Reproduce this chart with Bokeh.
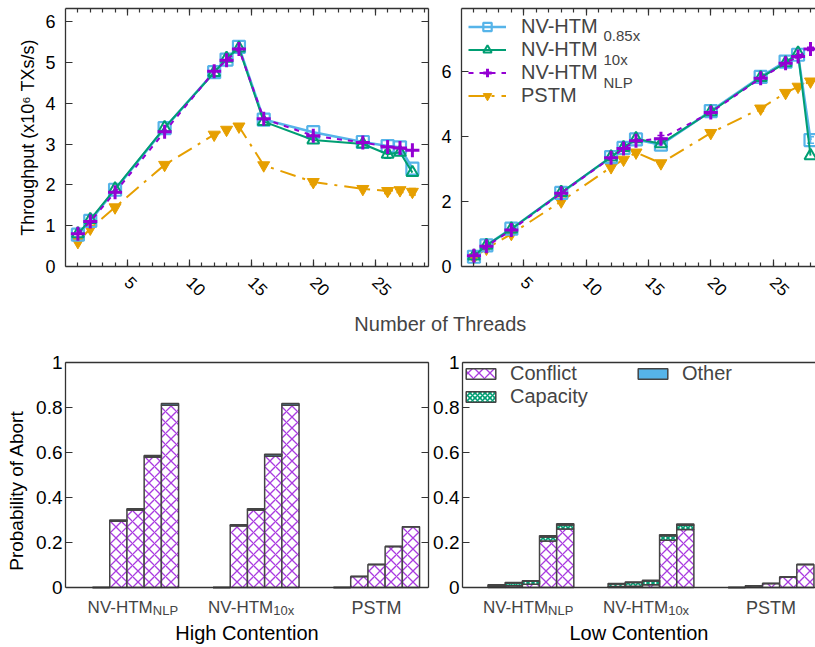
import math
from bokeh.plotting import figure
from bokeh.models import (Range1d, FixedTicker, LinearAxis, Label, Legend, LegendItem,
                          ColumnDataSource, Whisker, TeeHead, CustomJSTickFormatter, Span)
from bokeh.layouts import column, row
from bokeh.embed import file_html
from bokeh.resources import INLINE

FONT = "Liberation Sans"
AXC = "#333333"
BLUE, GREEN, PURPLE, ORANGE = "#56B4E9", "#009E73", "#9400D3", "#E69F00"
HATCH_PURPLE = "#A93BE0"

# ---------------- data: throughput ----------------
threads = [1, 2, 4, 8, 12, 13, 14, 16, 20, 24, 26, 27, 28]

hc_085 = [0.78, 1.12, 1.88, 3.39, 4.76, 5.07, 5.38, 3.60, 3.29, 3.05, 2.95, 2.92, 2.40]
hc_10x = [0.80, 1.15, 1.90, 3.40, 4.75, 5.10, 5.35, 3.55, 3.10, 3.00, 2.75, 2.80, 2.30]
hc_nlp = [0.80, 1.10, 1.82, 3.30, 4.78, 5.05, 5.33, 3.62, 3.20, 3.04, 2.93, 2.90, 2.85]
hc_pstm = [0.60, 0.93, 1.45, 2.49, 3.23, 3.35, 3.43, 2.48, 2.07, 1.90, 1.85, 1.87, 1.83]
hc_10x_err = [0, 0, 0, 0, 0, 0, 0, 0, 0, 0, 0.10, 0, 0]
hc_pstm_err = [0, 0, 0, 0, 0, 0, 0, 0, 0.06, 0, 0.06, 0.06, 0.08]

lc_085 = [0.30, 0.65, 1.16, 2.26, 3.36, 3.64, 3.90, 3.74, 4.77, 5.82, 6.29, 6.50, 3.88]
lc_10x = [0.32, 0.65, 1.15, 2.27, 3.36, 3.65, 3.92, 3.77, 4.75, 5.80, 6.25, 6.55, 3.40]
lc_nlp = [0.33, 0.62, 1.12, 2.25, 3.34, 3.62, 3.86, 3.92, 4.73, 5.78, 6.24, 6.45, 6.68]
lc_pstm = [0.28, 0.55, 1.00, 2.00, 3.05, 3.28, 3.50, 3.17, 4.10, 4.85, 5.33, 5.52, 5.68]
lc_085_err = [0, 0, 0, 0, 0, 0, 0, 0, 0, 0, 0, 0, 0.10]
lc_nlp_err = [0, 0, 0, 0, 0, 0, 0, 0.10, 0, 0, 0, 0.05, 0.05]
lc_pstm_err = [0, 0, 0, 0, 0, 0, 0, 0, 0, 0.08, 0, 0, 0]

x_major = [5, 10, 15, 20, 25]
x_minor = list(range(1, 30))
hc_yticks = [0, 1, 2, 3, 4, 5, 6]
lc_yticks = [0, 2, 4, 6]

series_names = ["NV-HTM", "NV-HTM", "NV-HTM", "PSTM"]
series_subs = ["0.85x", "10x", "NLP", ""]

# ---------------- data: abort probability ----------------
group_names = ["NV-HTM", "NV-HTM", "PSTM"]
group_subs = ["NLP", "10x", ""]
bars_per_group = 5
abort_yticks = [0, 0.2, 0.4, 0.6, 0.8, 1.0]

hc_conflict = [0.0, 0.295, 0.345, 0.580, 0.810, 0.0, 0.275, 0.345, 0.585, 0.810, 0.0, 0.049, 0.102, 0.182, 0.270]
hc_capacity = [0.0] * 15
hc_other = [0.0, 0.005, 0.005, 0.007, 0.008, 0.0, 0.004, 0.005, 0.007, 0.008, 0.0, 0.0, 0.0, 0.0, 0.0]

lc_conflict = [0.003, 0.008, 0.014, 0.207, 0.260, 0.004, 0.006, 0.012, 0.210, 0.258, 0.0, 0.008, 0.018, 0.047, 0.102]
lc_capacity = [0.007, 0.012, 0.014, 0.018, 0.018, 0.012, 0.016, 0.017, 0.020, 0.019, 0.0, 0.0, 0.0, 0.0, 0.0]
lc_other = [0.002, 0.002, 0.002, 0.005, 0.005, 0.002, 0.002, 0.003, 0.005, 0.005, 0.0, 0.0, 0.0, 0.0, 0.0]


def base_fig(x_range, y_range, w, h, bl, br, bt, bb):
    p = figure(x_range=x_range, y_range=y_range, width=w, height=h,
               min_border_left=bl, min_border_right=br, min_border_top=bt, min_border_bottom=bb,
               x_axis_type=None, y_axis_type=None, output_backend="svg", toolbar_location=None)
    p.outline_line_color = None
    p.background_fill_color = "white"
    p.border_fill_color = "white"
    return p


def add_axis(p, side, ticker, labels=True, size="18px", standoff=8, orientation=None,
             tick_in=7, minor_in=4, formatter=None, bounds=None):
    ax = LinearAxis(ticker=ticker)
    ax.axis_line_color = AXC
    ax.axis_line_width = 1.3
    ax.major_tick_line_color = AXC
    ax.major_tick_line_width = 1.2
    ax.minor_tick_line_color = AXC
    ax.minor_tick_line_width = 1.2
    ax.major_tick_in = tick_in
    ax.major_tick_out = 0
    ax.minor_tick_in = minor_in
    ax.minor_tick_out = 0
    if bounds is not None:
        ax.bounds = bounds
    if labels:
        ax.major_label_text_font = FONT
        ax.major_label_text_font_size = size
        ax.major_label_text_color = "black"
        ax.major_label_standoff = standoff
        if orientation is not None:
            ax.major_label_orientation = orientation
        if formatter is not None:
            ax.formatter = formatter
    else:
        ax.formatter = CustomJSTickFormatter(code="return ''")
        ax.major_label_text_font_size = "0px"
        ax.major_label_standoff = 0
    ax.axis_label_text_font = FONT
    ax.axis_label_text_font_style = "normal"
    ax.axis_label_text_color = "black"
    p.add_layout(ax, side)
    return ax


def add_err(p, xs, ys, errs, color):
    idx = [i for i, e in enumerate(errs) if e > 0]
    if not idx:
        return
    src = ColumnDataSource(dict(x=[xs[i] for i in idx],
                                lo=[ys[i] - errs[i] for i in idx],
                                hi=[ys[i] + errs[i] for i in idx]))
    w = Whisker(source=src, base="x", lower="lo", upper="hi", line_color=color, line_width=1.5,
                upper_head=TeeHead(size=7, line_color=color, line_width=1.5),
                lower_head=TeeHead(size=7, line_color=color, line_width=1.5))
    p.add_layout(w)


TOP_FH = 258
TOP_BT = 8
TOP_BB = 39


def throughput_fig(xmax, ymax, yticks, bl, fw, br, data, errs, mirror_right, ylabel=None):
    p = base_fig(Range1d(0, xmax), Range1d(0, ymax), bl + fw + br, TOP_BT + TOP_FH + TOP_BB,
                 bl, br, TOP_BT, TOP_BB)
    xt = FixedTicker(ticks=x_major, minor_ticks=x_minor)
    yt = FixedTicker(ticks=yticks, minor_ticks=[])
    add_axis(p, "below", xt, size="17px", standoff=13, orientation=-math.pi / 4)
    add_axis(p, "above", FixedTicker(ticks=x_major, minor_ticks=x_minor), labels=False)
    ya = add_axis(p, "left", yt, size="18px", standoff=10)
    if ylabel:
        ya.axis_label = ylabel
        ya.axis_label_text_font_size = "18px"
        ya.axis_label_standoff = 4
    if mirror_right:
        add_axis(p, "right", FixedTicker(ticks=yticks, minor_ticks=[]), labels=False)

    y085, y10x, ynlp, ypstm = data
    e085, e10x, enlp, epstm = errs
    l4 = p.line(threads, ypstm, line_color=ORANGE, line_width=2, line_dash="16 7 3 7")
    m4 = p.scatter(threads, ypstm, marker="inverted_triangle", size=12, line_color=ORANGE,
                   fill_color=ORANGE, line_width=1)
    add_err(p, threads, ypstm, epstm, ORANGE)
    l1 = p.line(threads, y085, line_color=BLUE, line_width=2.6)
    m1 = p.scatter(threads, y085, marker="square", size=12, line_color=BLUE,
                   fill_color=None, line_width=2.2)
    add_err(p, threads, y085, e085, BLUE)
    l2 = p.line(threads, y10x, line_color=GREEN, line_width=2)
    m2 = p.scatter(threads, y10x, marker="triangle", size=12, line_color=GREEN,
                   fill_color=None, line_width=2)
    add_err(p, threads, y10x, e10x, GREEN)
    l3 = p.line(threads, ynlp, line_color=PURPLE, line_width=2, line_dash="5 6")
    m3 = p.scatter(threads, ynlp, marker="cross", size=14, line_color=PURPLE, line_width=3)
    add_err(p, threads, ynlp, enlp, PURPLE)
    return p, [[l1, m1], [l2, m2], [l3, m3], [l4, m4]]


# ---------------- top row ----------------
tl, _ = throughput_fig(29.3, 6.32, hc_yticks, 65, 363, 2,
                       (hc_085, hc_10x, hc_nlp, hc_pstm),
                       ([0] * 13, hc_10x_err, [0] * 13, hc_pstm_err),
                       True, ylabel="Throughput (x10\u2076 TXs/s)")

tr, tr_rs = throughput_fig(28.4, 7.92, lc_yticks, 31, 354, 0,
                           (lc_085, lc_10x, lc_nlp, lc_pstm),
                           (lc_085_err, [0] * 13, lc_nlp_err, lc_pstm_err),
                           False)

SUB_BASE0 = 27    # subscript baseline of first legend row, px below frame top
LEG_STEP = 23.5   # legend row pitch
leg = Legend(items=[LegendItem(label=series_names[i], renderers=tr_rs[i]) for i in range(4)],
             location="top_left", margin=7, padding=8, spacing=0,
             glyph_width=38, glyph_height=21, label_height=21, label_standoff=15,
             label_text_font=FONT, label_text_font_size="20px",
             border_line_color=None, background_fill_alpha=0)
tr.add_layout(leg)
for i, sub in enumerate(series_subs):
    if sub:
        y_from_top = SUB_BASE0 + LEG_STEP * i
        tr.add_layout(Label(x=142, y=TOP_FH - y_from_top, x_units="screen",
                            y_units="screen", text=sub, text_font=FONT, text_font_size="15px",
                            text_align="left", text_baseline="alphabetic"))

# ---------------- middle label ----------------
mid = figure(width=815, height=40, x_axis_type=None, y_axis_type=None,
             x_range=Range1d(0, 1), y_range=Range1d(0, 1), min_border=0,
             output_backend="svg", toolbar_location=None)
mid.outline_line_color = None
mid.add_layout(Label(x=440, y=22, x_units="screen", y_units="screen", text="Number of Threads",
                     text_font=FONT, text_font_size="20px", text_align="center",
                     text_baseline="middle"))

# ---------------- bottom row ----------------
BOT_FH = 256
BOT_BT = 17
BOT_BB = 28
BELOW_PX = 31  # pixels of frame reserved below the zero line for group names
Y_MIN = -BELOW_PX / (BOT_FH - BELOW_PX)


def abort_fig(xr, bl, fw, br, conflict, capacity, other, mirror_right, ylabel=None, xlabel=""):
    p = base_fig(xr, Range1d(Y_MIN, 1), bl + fw + br, BOT_BT + BOT_FH + BOT_BB, bl, br, BOT_BT, BOT_BB)
    ya = add_axis(p, "left", FixedTicker(ticks=abort_yticks, minor_ticks=[]), size="19px",
                  standoff=3, bounds=(0, 1), formatter=CustomJSTickFormatter(
                      code="return String(Math.round(tick * 10) / 10);"))
    if ylabel:
        ya.axis_label = ylabel
        ya.axis_label_text_font_size = "19px"
        ya.axis_label_standoff = 6
    xa = add_axis(p, "below", FixedTicker(ticks=[], minor_ticks=[]), labels=False)
    xa.axis_line_color = None
    xa.axis_label = xlabel
    xa.axis_label_text_font_size = "20px"
    xa.axis_label_standoff = 3
    add_axis(p, "above", FixedTicker(ticks=[], minor_ticks=[]), labels=False)
    if mirror_right:
        add_axis(p, "right", FixedTicker(ticks=abort_yticks, minor_ticks=[]), labels=False,
                 bounds=(0, 1))

    step = bars_per_group + 2
    xs = [g * step + b for g in range(len(group_names)) for b in range(bars_per_group)]
    src = ColumnDataSource(dict(x=xs, conflict=conflict, capacity=capacity, other=other))
    rs = p.vbar_stack(["conflict", "capacity", "other"], x="x", width=1, source=src,
                      fill_color=["white", "white", BLUE],
                      hatch_pattern=["x", "x", " "],
                      hatch_color=[HATCH_PURPLE, GREEN, BLUE],
                      hatch_scale=[11, 5, 11], hatch_weight=[1.3, 1.6, 1.0],
                      line_color="#444444", line_width=1.5)
    p.add_layout(Span(location=0, dimension="width", line_color=AXC, line_width=1.3))
    for g, (name, sub) in enumerate(zip(group_names, group_subs)):
        center = g * step + (bars_per_group - 1) / 2
        if sub:
            p.add_layout(Label(x=center + 1.0, y=BELOW_PX - 20, y_units="screen", text=name,
                               text_font=FONT, text_font_size="17px", text_align="right",
                               text_baseline="alphabetic"))
            p.add_layout(Label(x=center + 1.0, y=BELOW_PX - 23, y_units="screen", text=sub,
                               text_font=FONT, text_font_size="13px", text_align="left",
                               text_baseline="alphabetic"))
        else:
            p.add_layout(Label(x=center, y=BELOW_PX - 20, y_units="screen", text=name,
                               text_font=FONT, text_font_size="18px", text_align="center",
                               text_baseline="alphabetic"))
    return p, rs


bl_fig, _ = abort_fig(Range1d(-2.07, 19.02), 65, 363, 2, hc_conflict, hc_capacity, hc_other, True,
                      ylabel="Probability of Abort", xlabel="High Contention")
br_fig, br_rs = abort_fig(Range1d(-1.99, 18.59), 31, 354, 0, lc_conflict, lc_capacity, lc_other,
                          False, xlabel="Low Contention")
leg2 = Legend(items=[LegendItem(label="Conflict", renderers=[br_rs[0]]),
                     LegendItem(label="Capacity", renderers=[br_rs[1]]),
                     LegendItem(label="Other", renderers=[br_rs[2]])],
              nrows=2, location="top_left", margin=0, padding=8, spacing=0,
              glyph_width=37, glyph_height=13, label_standoff=11, label_width=124,
              label_height=23, label_text_font=FONT, label_text_font_size="20px",
              border_line_color=None, background_fill_alpha=0)
br_fig.add_layout(leg2)

layout = column(row(tl, tr), mid, row(bl_fig, br_fig))
open("out.html", "w").write(file_html(layout, INLINE))
